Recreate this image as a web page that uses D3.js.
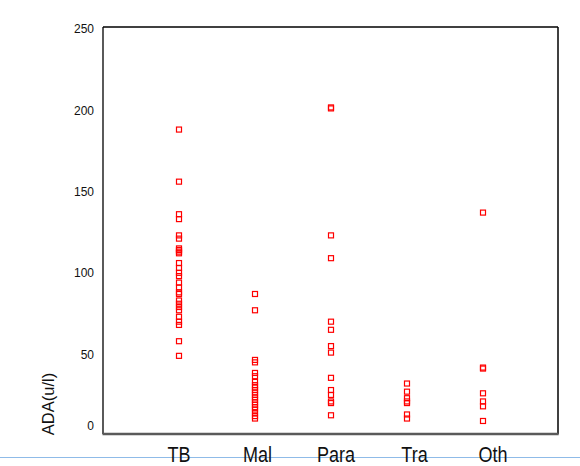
<!DOCTYPE html>
<html>
<head>
<meta charset="utf-8">
<script src="https://cdn.jsdelivr.net/npm/d3@7"></script>
<style>
  html, body { margin: 0; padding: 0; background: #fff; }
  svg { display: block; }
</style>
</head>
<body>
<svg id="chart" width="580" height="466"></svg>
<script>
const categories = ["TB", "Mal", "Para", "Tra", "Oth"];
const tbValues   = [187, 155, 135, 132, 122, 120, 114, 113, 112, 111, 105, 102, 99, 97, 93, 90, 87, 86, 82, 80, 78, 76, 72, 69, 67, 57, 48];
const malValues  = [86, 76, 45.5, 44, 37.5, 35.5, 32, 30, 28.5, 27, 25.5, 24, 22.5, 21, 19.5, 18, 16.5, 15, 13, 11, 9.5];
const paraValues = [200.6, 200, 122, 108, 69, 64, 54, 50, 34.5, 27, 24, 20, 19, 11.5];
const traValues  = [31, 26, 22, 20, 19, 12, 9.5];
const othValues  = [136, 40.8, 40.2, 25, 20, 17, 8];
const yTicks = [0, 50, 100, 150, 200, 250];
const yTitle = "ADA(u/l)";

const seriesValues = [tbValues, malValues, paraValues, traValues, othValues];
const points = [];
categories.forEach((c, i) => seriesValues[i].forEach(v => points.push({cat: c, value: v})));

const svg = d3.select("#chart");
const mLeft = 103, mRight = 558, mTop = 27, mBottom = 434;

const x = d3.scalePoint().domain(categories).range([mLeft, mRight + 1]).padding(1);
// category captions sit on a slightly wider spacing than the points
const xLabel = d3.scalePoint().domain(categories).range([100.5, 571.5]).padding(1);
const y = d3.scaleLinear().domain([0, 250]).range([mBottom, mTop]);

// light separator line
svg.append("line")
  .attr("x1", 0).attr("x2", 580)
  .attr("y1", 457.5).attr("y2", 457.5)
  .attr("stroke", "#8fbbe8").attr("stroke-width", 1);

// frame
svg.append("line").attr("x1", mLeft).attr("x2", mRight).attr("y1", mTop).attr("y2", mTop)
  .attr("stroke", "#000").attr("stroke-width", 1.3);
svg.append("line").attr("x1", mRight).attr("x2", mRight).attr("y1", mTop).attr("y2", mBottom)
  .attr("stroke", "#000").attr("stroke-width", 1.5);
svg.append("line").attr("x1", mLeft).attr("x2", mLeft).attr("y1", mTop).attr("y2", mBottom)
  .attr("stroke", "#000").attr("stroke-width", 1.3);
svg.append("line").attr("x1", mLeft - 0.5).attr("x2", mRight + 0.7).attr("y1", mBottom).attr("y2", mBottom)
  .attr("stroke", "#5a5a5a").attr("stroke-width", 2.6);

// y tick labels
svg.append("g").selectAll("text").data(yTicks).join("text")
  .attr("x", 94)
  .attr("y", d => Math.min(y(d) + 2, y(0) - 8))
  .attr("dy", "0.35em")
  .attr("text-anchor", "end")
  .attr("font-family", "Liberation Sans, Arial, sans-serif")
  .attr("font-size", 12)
  .attr("fill", "#111")
  .text(d => d);

// y title
svg.append("text")
  .attr("transform", `translate(54, 404) rotate(-90)`)
  .attr("text-anchor", "middle")
  .attr("font-family", "Liberation Sans, Arial, sans-serif")
  .attr("font-size", 16.5)
  .attr("fill", "#111")
  .text(yTitle);

// x category labels (condensed)
svg.append("g").selectAll("text").data(categories).join("text")
  .attr("transform", d => `translate(${xLabel(d)}, 462) scale(0.82, 1)`)
  .attr("text-anchor", "middle")
  .attr("font-family", "Liberation Sans, Arial, sans-serif")
  .attr("font-size", 22)
  .attr("fill", "#111")
  .text(d => d);

// points
const s = 5;
svg.append("g").selectAll("rect").data(points).join("rect")
  .attr("x", d => x(d.cat) - s / 2)
  .attr("y", d => y(d.value) - s / 2)
  .attr("width", s).attr("height", s)
  .attr("fill", "none")
  .attr("stroke", "#ff0000")
  .attr("stroke-width", 1.2);
</script>
</body>
</html>
